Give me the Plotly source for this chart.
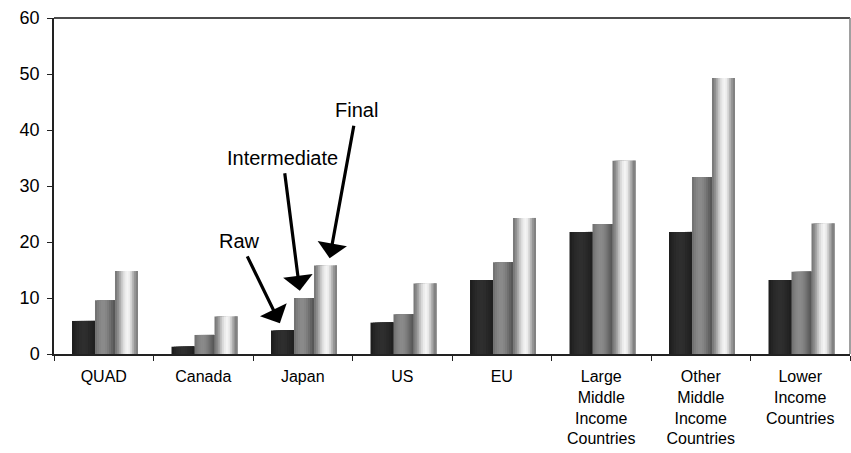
import plotly.graph_objects as go

# Categories and series values (percent)
categories = ["QUAD", "Canada", "Japan", "US", "EU",
              "Large<br>Middle<br>Income<br>Countries",
              "Other<br>Middle<br>Income<br>Countries",
              "Lower<br>Income<br>Countries"]
raw = [5.9, 1.3, 4.2, 5.6, 13.2, 21.8, 21.8, 13.2]
intermediate = [9.6, 3.4, 10.0, 7.1, 16.4, 23.2, 31.6, 14.7]
final = [14.8, 6.7, 15.8, 12.6, 24.3, 34.5, 49.3, 23.3]
y_ticks = [0, 10, 20, 30, 40, 50, 60]

# Cylinder-like shading: each bar is built from overlapping bars that start
# progressively further right, so every stripe shows one shade of the gradient
series = [
    ("Raw", raw, -0.319, 0.231,
     ["#1e1e1e", "#242424", "#292929", "#2c2c2c", "#2e2e2e", "#2e2e2e",
      "#2c2c2c", "#282828", "#242424", "#202020"]),
    ("Intermediate", intermediate, -0.088, 0.201,
     ["#737373", "#7d7d7d", "#858585", "#8a8a8a", "#8a8a8a", "#858585",
      "#7c7c7c", "#707070", "#636363", "#585858"]),
    ("Final", final, 0.113, 0.231,
     ["#7a7a7a", "#8c8c8c", "#a6a6a6", "#c4c4c4", "#dcdcdc", "#ececec",
      "#f4f4f4", "#ececec", "#d2d2d2", "#b0b0b0", "#939393", "#828282"]),
]

fig = go.Figure()
for name, vals, offset, width, shades in series:
    n = len(shades)
    sw = width / n
    for i, col in enumerate(shades):
        fig.add_trace(go.Bar(
            x=categories, y=vals, name=name,
            offset=offset + i * sw, width=width - i * sw,
            marker=dict(color=col, line=dict(width=0)),
            showlegend=False, hoverinfo="skip" if i else "x+y+name",
        ))

# Arrow call-outs pointing at the Japan bars
japan = categories.index("Japan")
callouts = [
    ("Raw", raw[japan], -0.23, -40, -82),
    ("Intermediate", intermediate[japan], -0.03, -17, -133),
    ("Final", final[japan], 0.27, 27, -148),
]
for text, val, dx, ax, ay in callouts:
    fig.add_annotation(
        x=japan + dx, y=val + 1.3, xref="x", yref="y",
        text=text, showarrow=True, ax=ax, ay=ay,
        arrowhead=1, arrowsize=1.55, arrowwidth=3.2, arrowcolor="#000000",
        startstandoff=3,
        font=dict(family="Liberation Sans, Arial, sans-serif", size=20, color="#000000"),
    )

# Frame: top and right edges of the plot area
fig.add_shape(type="line", xref="paper", yref="paper", x0=0, x1=1, y0=1, y1=1,
              line=dict(color="#111111", width=1.5))
fig.add_shape(type="line", xref="paper", yref="paper", x0=1, x1=1, y0=0, y1=1,
              line=dict(color="#808080", width=1.5))

fig.update_layout(
    width=851, height=453,
    margin=dict(l=54, r=1, t=18, b=99),
    barmode="overlay",
    paper_bgcolor="#ffffff", plot_bgcolor="#ffffff",
    font=dict(family="Liberation Sans, Arial, sans-serif", color="#000000"),
    xaxis=dict(
        type="category", tickson="boundaries", ticks="outside", ticklen=5,
        tickcolor="#222222", showline=True, linecolor="#222222", linewidth=1.5,
        showgrid=False, tickfont=dict(size=16), range=[-0.5, 7.5],
        ticklabelstandoff=7,
    ),
    yaxis=dict(
        range=[0, 60], tickvals=y_ticks, ticks="outside", ticklen=5,
        tickcolor="#222222", showline=True, linecolor="#222222", linewidth=1.5,
        showgrid=False, zeroline=False, tickfont=dict(size=18), ticklabelstandoff=4,
    ),
)

fig.write_html("out.html")
